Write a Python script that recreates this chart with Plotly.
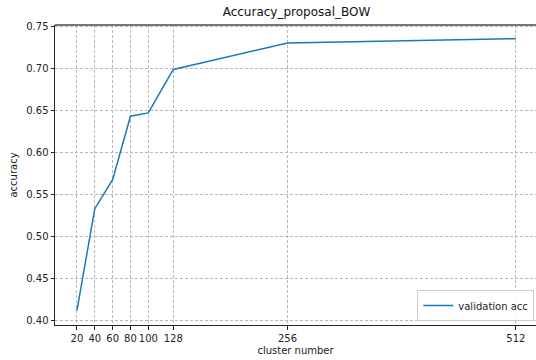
import plotly.graph_objects as go

# cluster counts and validation accuracy
cluster_numbers = [20, 40, 60, 80, 100, 128, 256, 512]
validation_acc = [0.4118, 0.5330, 0.5675, 0.6428, 0.6468, 0.6984, 0.7299, 0.7349]
x_tick_labels = ["20", "40", "60", "80", "100", "128", "256", "512"]
y_tick_values = [0.40, 0.45, 0.50, 0.55, 0.60, 0.65, 0.70, 0.75]

FONT = "DejaVu Sans, sans-serif"

fig = go.Figure()
fig.add_trace(go.Scatter(
    x=cluster_numbers, y=validation_acc, mode="lines",
    name="validation acc",
    line=dict(color="#1f77b4", width=1.5),
))

grid_dash = "3px,2px"
fig.update_layout(
    width=536, height=360,
    margin=dict(l=55, r=0, t=25, b=35, autoexpand=False),
    plot_bgcolor="white", paper_bgcolor="white",
    font=dict(family=FONT, size=10, color="#222"),
    title=dict(text="Accuracy_proposal_BOW", x=(55 + 538) / 2 / 536, xanchor="center",
               y=1 - 12 / 360, yanchor="middle", font=dict(size=12, color="#111")),
    showlegend=True,
    legend=dict(x=0.9965, y=0.013, xanchor="right", yanchor="bottom",
                bgcolor="rgba(255,255,255,0.85)", bordercolor="#cccccc", borderwidth=1,
                font=dict(size=10, color="#222"), itemwidth=30,
                tracegroupgap=0),
    xaxis=dict(
        range=[-4.6, 534.6], tickmode="array", tickvals=cluster_numbers, ticktext=x_tick_labels,
        tickangle=0, automargin=False,
        showgrid=True, gridcolor="#b8b8b8", gridwidth=1, griddash=grid_dash,
        showline=True, linecolor="#222", linewidth=1,
        ticks="outside", ticklen=3.5, tickcolor="#222", zeroline=False,
        title=dict(text="cluster number", standoff=4, font=dict(size=10, color="#222")),
    ),
    yaxis=dict(
        range=[0.3948, 0.7512], tickmode="array", tickvals=y_tick_values,
        ticktext=[f"{v:.2f}" for v in y_tick_values], automargin=False,
        showgrid=True, gridcolor="#b8b8b8", gridwidth=1, griddash=grid_dash,
        showline=True, linecolor="#222", linewidth=1,
        ticks="outside", ticklen=3.5, tickcolor="#222", zeroline=False,
        title=dict(text="accuracy", standoff=6, font=dict(size=10, color="#222")),
    ),
)

# top spine
fig.add_shape(type="line", xref="paper", yref="paper", x0=0, x1=1, y0=1, y1=1,
              line=dict(color="#777777", width=2))

fig.write_html("out.html")
